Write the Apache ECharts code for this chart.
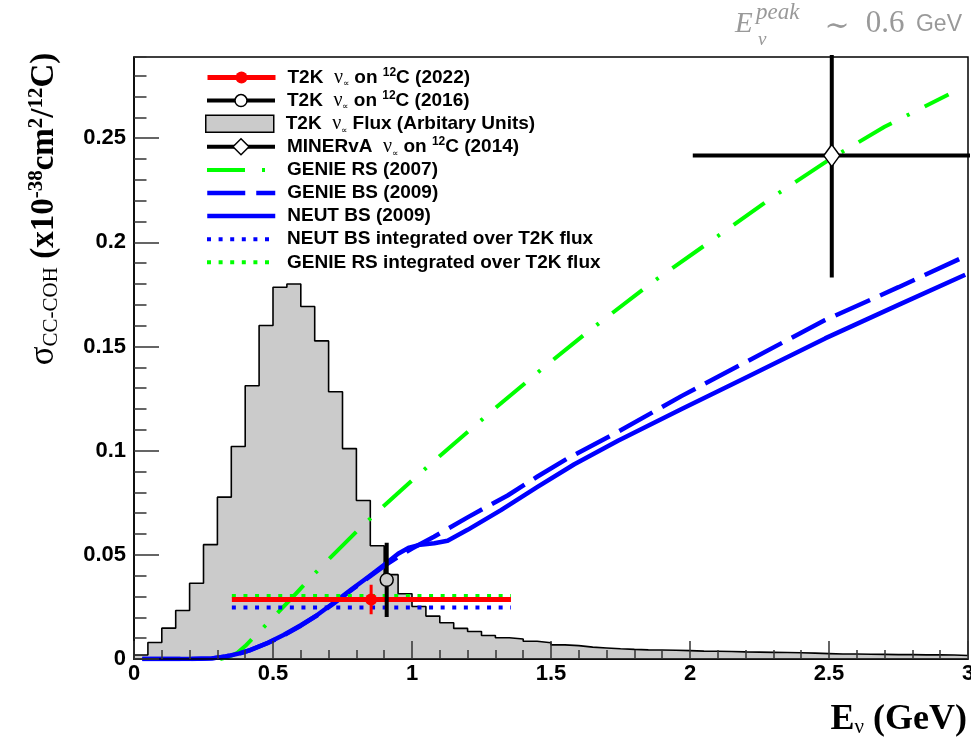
<!DOCTYPE html>
<html><head><meta charset="utf-8">
<script src="https://cdn.jsdelivr.net/npm/echarts@6/dist/echarts.min.js"></script>
<style>html,body{margin:0;padding:0;background:#fff}#c{width:971px;height:750px}</style>
</head><body><div id="c"></div>
<script>
// ---------- data ----------
const binWidth = 0.05;
const fluxValues = [0.0019,0.0079,0.0148,0.0233,0.0364,0.0549,0.0777,0.1020,0.1312,0.1601,
  0.1785,0.1800,0.1692,0.1527,0.1283,0.1010,0.0761,0.0544,0.0405,0.0313,
  0.0252,0.0206,0.0174,0.0147,0.0132,0.0113,0.0102,0.0096,0.0085,0.0078,
  0.0068,0.0064,0.0057,0.0053,0.0049,0.0046,0.0044,0.0043,0.0042,0.0040,
  0.0038,0.0037,0.0036,0.0034,0.0033,0.0032,0.0031,0.0030,0.0028,0.0026,
  0.0024,0.0024,0.0023,0.0022,0.0021,0.0021,0.0020,0.0020,0.0019,0.0017];
const genieRS = [[0.31,0],[0.34,0.001],[0.37,0.0028],[0.40,0.0062],[0.43,0.0103],[0.50,0.0198],[0.57,0.0296],
  [0.635,0.0390],[0.72,0.0505],[0.803,0.0615],[0.88,0.0712],[0.959,0.0808],[1.10,0.0975],[1.30,0.1205],
  [1.488,0.1415],[1.632,0.1570],[1.861,0.1805],[2.10,0.2030],[2.30,0.2220],[2.51,0.2405],[2.70,0.2555],[2.93,0.2710]];
const genieBS = [[0.03,0],[0.20,0],[0.28,0.0003],[0.33,0.0012],[0.38,0.0027],[0.418,0.0043],[0.48,0.0076],
  [0.538,0.0113],[0.60,0.0160],[0.659,0.0210],[0.72,0.0268],[0.779,0.0328],[0.84,0.0388],[0.899,0.0446],
  [0.95,0.0490],[1.00,0.0530],[1.079,0.0587],[1.20,0.0680],[1.344,0.0785],[1.45,0.0875],[1.56,0.0963],
  [1.741,0.1091],[1.969,0.1262],[2.20,0.1425],[2.486,0.1627],[2.75,0.1785],[2.985,0.1930]];
const neutBS = [[0.03,0],[0.20,0],[0.28,0.0003],[0.33,0.0012],[0.38,0.0027],[0.418,0.0043],[0.48,0.0077],
  [0.538,0.0115],[0.60,0.0162],[0.659,0.0211],[0.72,0.0271],[0.779,0.0331],[0.84,0.0391],[0.899,0.0451],
  [0.95,0.0505],[0.99,0.0535],[1.03,0.0549],[1.08,0.0556],[1.128,0.0568],[1.20,0.0620],[1.32,0.0715],
  [1.45,0.0825],[1.584,0.0935],[1.741,0.1048],[1.97,0.1200],[2.20,0.1350],[2.486,0.1539],[2.75,0.1700],[2.99,0.1845]];
const fluxRange = [0.352, 1.356];
const neutIntegrated = [0.0247];
const genieIntegrated = [0.0303];
const t2k2022 = [0.853, 0.0286, 0.0071];      // E, sigma, sigma error
const t2k2016 = [0.909, 0.0380, 0.0178];      // E, sigma, sigma error
const minerva = [2.51, 0.2417, 0.0585, 0.5];  // E, sigma, sigma error, E error
const legendNames = ['t2k2022','t2k2016','flux','minerva','genieRS','genieBS','neutBS','neutInt','genieInt'];
const legendLabels = [
  'T2K  {nu|ν}{sub|∝} on {sup|12}C (2022)',
  'T2K  {nu|ν}{sub|∝} on {sup|12}C (2016)',
  'T2K  {nu|ν}{sub|∝} Flux (Arbitary Units)',
  'MINERvA  {nu|ν}{sub|∝} on {sup|12}C (2014)',
  'GENIE RS (2007)',
  'GENIE BS (2009)',
  'NEUT BS (2009)',
  'NEUT BS integrated over T2K flux',
  'GENIE RS integrated over T2K flux'
];

// ---------- chart ----------
const HIST_GREY = '#cbcbcb';
const fluxData = fluxValues.map((v, i) => [i * binWidth, v]);
fluxData.push([fluxValues.length * binWidth, fluxValues[fluxValues.length - 1]]);

const base = {type: 'line', xAxisIndex: 0, yAxisIndex: 0, symbol: 'none', silent: true, clip: true, animation: false};
const hLine = (y) => [[fluxRange[0], y], [fluxRange[1], y]];

const series = [
  Object.assign({}, base, {name: 'flux', data: fluxData, step: 'end', z: 1,
    lineStyle: {color: '#000', width: 1.6}, areaStyle: {color: HIST_GREY, opacity: 1}, itemStyle: {color: HIST_GREY}}),
  Object.assign({}, base, {name: 'genieRS', data: genieRS, smooth: false, z: 2,
    lineStyle: {color: '#00ff00', width: 4, type: [38, 17, 3, 17]}, itemStyle: {color: '#00ff00'}}),
  Object.assign({}, base, {name: 'genieBS', data: genieBS, smooth: false, z: 2,
    lineStyle: {color: '#0000ff', width: 4.5, type: [38, 11]}, itemStyle: {color: '#0000ff'}}),
  Object.assign({}, base, {name: 'neutBS', data: neutBS, smooth: false, z: 2,
    lineStyle: {color: '#0000ff', width: 4.5, join: 'round'}, itemStyle: {color: '#0000ff'}}),
  Object.assign({}, base, {name: 'neutInt', data: hLine(neutIntegrated[0]), z: 3,
    lineStyle: {color: '#0000ff', width: 4, type: [4, 7.6]}, itemStyle: {color: '#0000ff'}}),
  Object.assign({}, base, {name: 'genieInt', data: hLine(genieIntegrated[0]), z: 3,
    lineStyle: {color: '#00ff00', width: 4, type: [4, 7.6]}, itemStyle: {color: '#00ff00'}}),
  Object.assign({}, base, {name: 't2k2022', symbol: 'circle', symbolSize: 12, z: 4,
    data: [{value: [fluxRange[0], t2k2022[1]], symbol: 'none'}, [t2k2022[0], t2k2022[1]], {value: [fluxRange[1], t2k2022[1]], symbol: 'none'}],
    lineStyle: {color: '#ff0000', width: 5}, itemStyle: {color: '#ff0000'}}),
  Object.assign({}, base, {name: 't2k2022v', z: 4,
    data: [[t2k2022[0], t2k2022[1] - t2k2022[2]], [t2k2022[0], t2k2022[1] + t2k2022[2]]],
    lineStyle: {color: '#ff0000', width: 3}, itemStyle: {color: '#ff0000'}}),
  Object.assign({}, base, {name: 't2k2016', symbol: 'circle', symbolSize: 13, z: 5,
    data: [{value: [t2k2016[0], t2k2016[1] - t2k2016[2]], symbol: 'none'}, [t2k2016[0], t2k2016[1]], {value: [t2k2016[0], t2k2016[1] + t2k2016[2]], symbol: 'none'}],
    lineStyle: {color: '#000', width: 4}, itemStyle: {color: HIST_GREY, borderColor: '#000', borderWidth: 1.5}}),
  Object.assign({}, base, {name: 'minervaH', z: 5,
    data: [[minerva[0] - minerva[3], minerva[1]], [minerva[0] + minerva[3], minerva[1]]],
    lineStyle: {color: '#000', width: 4}, itemStyle: {color: '#000'}}),
  Object.assign({}, base, {name: 'minerva', symbol: 'diamond', symbolSize: [16, 22], z: 6,
    data: [{value: [minerva[0], minerva[1] - minerva[2]], symbol: 'none'}, [minerva[0], minerva[1]], {value: [minerva[0], minerva[1] + minerva[2]], symbol: 'none'}],
    lineStyle: {color: '#000', width: 4}, itemStyle: {color: '#fff', borderColor: '#000', borderWidth: 1.5}})
];

const legendExtra = {
  t2k2022: {w: 5, h: 15},
  t2k2016: {w: 4, h: 15, item: {color: '#fff', borderColor: '#000', borderWidth: 1.5}},
  flux: {h: 17, icon: 'rect', item: {color: HIST_GREY, borderColor: '#000', borderWidth: 1.5}},
  minerva: {w: 4, h: 20, item: {color: '#fff', borderColor: '#000', borderWidth: 1.5}},
  genieRS: {w: 4, h: 14, item: {opacity: 0}},
  genieBS: {w: 4.5, h: 14, item: {opacity: 0}},
  neutBS: {w: 4.5, h: 14, item: {opacity: 0}},
  neutInt: {w: 4, h: 14, item: {opacity: 0}},
  genieInt: {w: 4, h: 14, item: {opacity: 0}}
};
const legendRich = {
  g: {width: 7},
  nu: {fontFamily: 'Liberation Serif', fontWeight: 'normal', fontSize: 20, lineHeight: 22, color: '#000'},
  sub: {fontFamily: 'Liberation Serif', fontWeight: 'normal', fontSize: 9, lineHeight: 9, verticalAlign: 'bottom', color: '#000'},
  sup: {fontFamily: 'Liberation Sans', fontWeight: 'bold', fontSize: 12, lineHeight: 12, verticalAlign: 'top', color: '#000'}
};
const legends = legendNames.map((name, i) => {
  const ex = legendExtra[name];
  const d = {name: name};
  if (ex.icon) d.icon = ex.icon;
  if (ex.item) d.itemStyle = ex.item;
  return {
    left: 205, top: 77.5 + i * 23.1 - 11, orient: 'vertical', padding: 0,
    itemWidth: 68, itemHeight: ex.h, selectedMode: false,
    data: [d],
    lineStyle: {width: ex.w || 4},
    formatter: () => '{g| }' + legendLabels[i],
    textStyle: {fontFamily: 'Liberation Sans', fontWeight: 'bold', fontSize: 19, color: '#000', lineHeight: 22, rich: legendRich}
  };
});

const tickFont = {fontFamily: 'Liberation Sans', fontWeight: 'bold', fontSize: 22, color: '#000'};
const YMAX = 0.289;
const GREY_TXT = '#999';
const option = {
  backgroundColor: '#fff',
  animation: false,
  grid: {left: 134, right: 3, top: 57, bottom: 91, show: true, borderColor: '#000', borderWidth: 1.5,
    backgroundColor: 'transparent', outerBoundsMode: 'none', containLabel: false},
  xAxis: [
    {type: 'value', min: 0, max: 3, interval: 0.5, position: 'bottom', z: 10,
      axisLine: {show: true, onZero: false, lineStyle: {color: '#000', width: 1.5}},
      axisTick: {show: true, inside: true, length: 18, lineStyle: {color: '#333', width: 1.5}},
      axisLabel: Object.assign({margin: 4}, tickFont), splitLine: {show: false}},
    {type: 'value', min: 0, max: 3, interval: 0.1, position: 'bottom', z: 10,
      axisLine: {show: false}, axisTick: {show: true, inside: true, length: 9, lineStyle: {color: '#333', width: 1.5}},
      axisLabel: {show: false}, splitLine: {show: false}}
  ],
  yAxis: [
    {type: 'value', min: 0, max: YMAX, interval: 0.05, position: 'left', z: 10,
      axisLine: {show: true, onZero: false, lineStyle: {color: '#000', width: 1.5}},
      axisTick: {show: true, inside: true, length: 25, lineStyle: {color: '#333', width: 1.5}},
      axisLabel: Object.assign({margin: 8, showMaxLabel: false}, tickFont), splitLine: {show: false}},
    {type: 'value', min: 0, max: YMAX, interval: 0.01, position: 'left', z: 10,
      axisLine: {show: false}, axisTick: {show: true, inside: true, length: 12.5, lineStyle: {color: '#333', width: 1.5}},
      axisLabel: {show: false}, splitLine: {show: false}}
  ],
  legend: legends,
  series: series,
  graphic: [
    {type: 'text', x: 44, y: 209, rotation: Math.PI / 2, silent: true,
      style: {text: '{s|σ}{sub|CC-COH} (x10{sup|-38}cm{sup|2}/{sup|12}C)', fill: '#000',
        fontFamily: 'Liberation Serif', fontWeight: 'bold', fontSize: 33, align: 'center', verticalAlign: 'middle',
        rich: {
          s: {fontFamily: 'Liberation Serif', fontWeight: 'normal', fontSize: 35, lineHeight: 36},
          sub: {fontFamily: 'Liberation Serif', fontWeight: 'normal', fontSize: 21, lineHeight: 21, verticalAlign: 'bottom'},
          sup: {fontFamily: 'Liberation Serif', fontWeight: 'bold', fontSize: 21, lineHeight: 21, verticalAlign: 'top'}
        }}},
    {type: 'text', x: 967, y: 720, silent: true,
      style: {text: 'E{sub|ν} (GeV)', fill: '#000', fontFamily: 'Liberation Serif', fontWeight: 'bold', fontSize: 36,
        align: 'right', verticalAlign: 'middle',
        rich: {sub: {fontFamily: 'Liberation Serif', fontWeight: 'normal', fontSize: 21, lineHeight: 21, verticalAlign: 'bottom'}}}},
    {type: 'text', x: 735, y: 24, silent: true,
      style: {text: 'E', fill: GREY_TXT, fontFamily: 'Liberation Serif', fontStyle: 'italic', fontSize: 29, align: 'left', verticalAlign: 'middle'}},
    {type: 'text', x: 756, y: 13, silent: true,
      style: {text: 'peak', fill: GREY_TXT, fontFamily: 'Liberation Serif', fontStyle: 'italic', fontSize: 23, align: 'left', verticalAlign: 'middle'}},
    {type: 'text', x: 758, y: 40, silent: true,
      style: {text: 'ν', fill: GREY_TXT, fontFamily: 'Liberation Serif', fontStyle: 'italic', fontSize: 19, align: 'left', verticalAlign: 'middle'}},
    {type: 'text', x: 837, y: 27, silent: true,
      style: {text: '∼', fill: GREY_TXT, fontFamily: 'DejaVu Serif', fontSize: 30, align: 'center', verticalAlign: 'middle'}},
    {type: 'text', x: 885, y: 24, silent: true,
      style: {text: '0.6', fill: GREY_TXT, fontFamily: 'Liberation Serif', fontSize: 31, align: 'center', verticalAlign: 'middle'}},
    {type: 'text', x: 962, y: 25, silent: true,
      style: {text: 'GeV', fill: GREY_TXT, fontFamily: 'Liberation Sans', fontSize: 23, align: 'right', verticalAlign: 'middle'}}
  ]
};
const chart = echarts.init(document.getElementById('c'), null, {renderer: 'canvas', width: 971, height: 750});
chart.setOption(option);
</script>
</body></html>
